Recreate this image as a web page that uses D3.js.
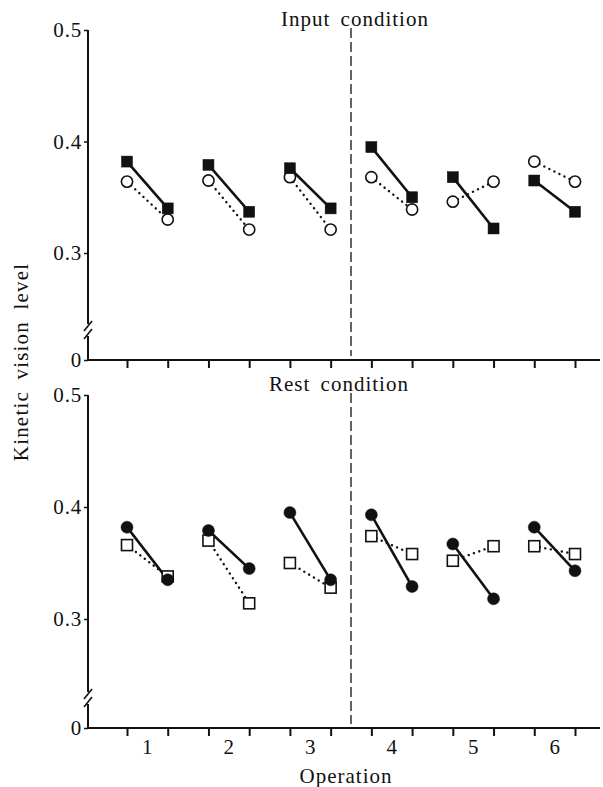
<!DOCTYPE html>
<html>
<head>
<meta charset="utf-8">
<script src="https://cdn.jsdelivr.net/npm/d3@7"></script>
<style>
  body { margin: 0; background: #fff; }
  text { font-family: "Liberation Serif", "DejaVu Serif", serif; fill: #111; }
</style>
</head>
<body>
<div id="chart"></div>
<script>
// operations and the two measurements (before / after) per operation
const operations = [1, 2, 3, 4, 5, 6];
const yTicks = [0, 0.3, 0.4, 0.5];

// Input condition: filled squares (solid) and open circles (dotted)
const inputSquarePre  = [0.382, 0.379, 0.376, 0.395, 0.368, 0.365];
const inputSquarePost = [0.340, 0.337, 0.340, 0.350, 0.322, 0.337];
const inputCirclePre  = [0.364, 0.365, 0.368, 0.368, 0.346, 0.382];
const inputCirclePost = [0.330, 0.321, 0.321, 0.339, 0.364, 0.364];

// Rest condition: filled circles (solid) and open squares (dotted)
const restCirclePre  = [0.382, 0.379, 0.395, 0.393, 0.367, 0.382];
const restCirclePost = [0.335, 0.345, 0.335, 0.329, 0.318, 0.343];
const restSquarePre  = [0.366, 0.370, 0.350, 0.374, 0.352, 0.365];
const restSquarePost = [0.338, 0.314, 0.328, 0.358, 0.365, 0.358];

const width = 603, height = 787;
const axisX = 88, axisEnd = 600;

const svg = d3.select("#chart").append("svg")
    .attr("width", width)
    .attr("height", height);

// slot index: 2 per operation (pre, post)
const x = d3.scaleLinear().domain([0, 11]).range([127, 575]);
const slots = d3.range(12);

function pairs(pre, post) {
  return operations.map((op, i) => [
    { slot: i * 2, v: pre[i] },
    { slot: i * 2 + 1, v: post[i] }
  ]);
}

function drawPanel(cfg) {
  const y = d3.scaleLinear().domain([0, 0.3, 0.5]).range([cfg.bottom, cfg.y03, cfg.top]);
  const g = svg.append("g");

  // y axis with break
  const yAxis = d3.axisLeft(y)
      .tickValues(yTicks)
      .tickSize(4)
      .tickFormat(d => d === 0 ? "0" : d.toFixed(1));
  const ya = g.append("g").attr("transform", `translate(${axisX},0)`).call(yAxis);
  ya.select(".domain").remove();
  ya.selectAll(".tick line").attr("stroke", "#111").attr("stroke-width", 1.5);
  ya.selectAll(".tick text").attr("x", -6)
      .style("font-size", "21px").style("letter-spacing", "0.8px")
      .attr("fill", "#111");

  const brk = cfg.bottom - 30;
  g.append("line").attr("x1", axisX).attr("x2", axisX)
      .attr("y1", y(0.5)).attr("y2", brk - 6)
      .attr("stroke", "#111").attr("stroke-width", 2);
  g.append("line").attr("x1", axisX).attr("x2", axisX)
      .attr("y1", brk + 6).attr("y2", cfg.bottom + 1)
      .attr("stroke", "#111").attr("stroke-width", 2);
  [-4, 4].forEach(o => {
    g.append("line")
        .attr("x1", axisX - 4).attr("y1", brk + o + 5)
        .attr("x2", axisX + 4).attr("y2", brk + o - 5)
        .attr("stroke", "#111").attr("stroke-width", 1.6);
  });

  // x axis
  g.append("line").attr("x1", axisX).attr("x2", axisEnd)
      .attr("y1", cfg.bottom).attr("y2", cfg.bottom)
      .attr("stroke", "#111").attr("stroke-width", 2);
  const xAxis = d3.axisBottom(x).tickValues(slots).tickSize(8).tickFormat("");
  const xa = g.append("g").attr("transform", `translate(0,${cfg.bottom})`).call(xAxis);
  xa.select(".domain").remove();
  xa.selectAll(".tick line").attr("stroke", "#111").attr("stroke-width", 2);

  // dashed divider between operations 3 and 4
  g.append("line")
      .attr("x1", x(5.5)).attr("x2", x(5.5))
      .attr("y1", cfg.top - 2).attr("y2", cfg.bottom - 4)
      .attr("stroke", "#111").attr("stroke-width", 1.3)
      .attr("stroke-dasharray", "10,4");

  // title
  g.append("text")
      .attr("x", cfg.titleX).attr("y", cfg.top - 4)
      .attr("text-anchor", "middle")
      .style("font-size", "21px")
      .style("letter-spacing", "1px")
      .style("word-spacing", "4px")
      .text(cfg.title);

  const line = d3.line().x(d => x(d.slot)).y(d => y(d.v));

  // dotted series (open markers)
  g.selectAll(".dot-line").data(pairs(cfg.openPre, cfg.openPost)).enter()
    .append("path").attr("d", line)
      .attr("fill", "none").attr("stroke", "#111")
      .attr("stroke-width", 2.4).attr("stroke-linecap", "round")
      .attr("stroke-dasharray", "0.1,5.5");

  // solid series (filled markers)
  g.selectAll(".solid-line").data(pairs(cfg.fillPre, cfg.fillPost)).enter()
    .append("path").attr("d", line)
      .attr("fill", "none").attr("stroke", "#111")
      .attr("stroke-width", 2.6);

  const openPts = pairs(cfg.openPre, cfg.openPost).flat();
  const fillPts = pairs(cfg.fillPre, cfg.fillPost).flat();

  function marker(sel, shape, filled) {
    if (shape === "square") {
      sel.append("rect")
          .attr("x", d => x(d.slot) - 5.5).attr("y", d => y(d.v) - 5.5)
          .attr("width", 11).attr("height", 11)
          .attr("fill", filled ? "#111" : "#fff")
          .attr("stroke", "#111").attr("stroke-width", filled ? 0.5 : 1.6);
    } else {
      sel.append("circle")
          .attr("cx", d => x(d.slot)).attr("cy", d => y(d.v))
          .attr("r", filled ? 6 : 5.6)
          .attr("fill", filled ? "#111" : "#fff")
          .attr("stroke", "#111").attr("stroke-width", filled ? 0.5 : 1.6);
    }
  }
  marker(g.append("g").selectAll("g").data(openPts).enter(), cfg.openShape, false);
  marker(g.append("g").selectAll("g").data(fillPts).enter(), cfg.fillShape, true);

  return y;
}

drawPanel({
  top: 30, y03: 253, bottom: 360, title: "Input condition", titleX: 355,
  fillShape: "square", fillPre: inputSquarePre, fillPost: inputSquarePost,
  openShape: "circle", openPre: inputCirclePre, openPost: inputCirclePost
});

drawPanel({
  top: 395, y03: 619, bottom: 728, title: "Rest condition", titleX: 339,
  fillShape: "circle", fillPre: restCirclePre, fillPost: restCirclePost,
  openShape: "square", openPre: restSquarePre, openPost: restSquarePost
});

// operation labels
svg.append("g").selectAll("text").data(operations).enter()
  .append("text")
    .attr("x", (d, i) => x(i * 2 + 0.5))
    .attr("y", 754)
    .attr("text-anchor", "middle")
    .style("font-size", "21px")
    .text(d => d);

svg.append("text")
    .attr("x", 346).attr("y", 783)
    .attr("text-anchor", "middle")
    .style("font-size", "21px")
    .style("letter-spacing", "1px")
    .text("Operation");

svg.append("text")
    .attr("transform", "translate(28,362) rotate(-90)")
    .attr("text-anchor", "middle")
    .style("font-size", "21px")
    .style("letter-spacing", "1.2px")
    .style("word-spacing", "5px")
    .text("Kinetic vision level");
</script>
</body>
</html>
